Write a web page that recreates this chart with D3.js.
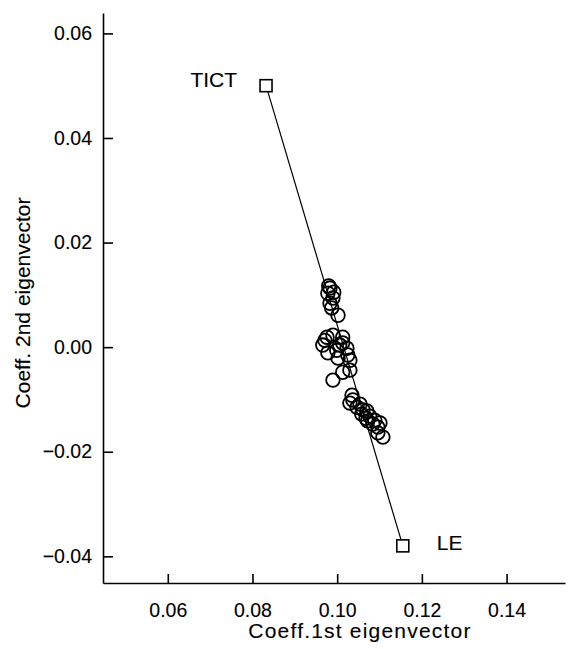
<!DOCTYPE html>
<html>
<head>
<meta charset="utf-8">
<script src="https://cdn.jsdelivr.net/npm/d3@7"></script>
<style>
body{margin:0;background:#fff;}
svg{display:block;font-family:"Liberation Sans",Arial,Helvetica,sans-serif;}
.tick text{font-size:19.5px;fill:#000;stroke:#000;stroke-width:0.12px;}
.label{font-size:21px;fill:#000;stroke:#000;stroke-width:0.12px;}
</style>
</head>
<body>
<svg id="graph1"></svg>
<script>
// scores on the two eigenvectors
var coeff1=[0.0980,0.0983,0.0978,0.0992,0.0990,0.0983,0.0987,0.1002,
    0.0976,0.0990,0.1013,0.0971,0.1013,0.0966,0.1006,0.1023,0.0999,0.0978,0.1025,0.1002,0.1030,0.1030,0.1013,0.0990,
    0.1035,0.1037,0.1030,0.1054,0.1047,0.1061,0.1070,0.1058,0.1077,0.1068,0.1072,0.1089,0.1084,0.1101,0.1096,0.1096,0.1108]
var coeff2=[0.0117,0.0113,0.0103,0.0105,0.0094,0.0084,0.0075,0.0061,
    0.0019,0.0023,0.0019,0.0013,0.0008,0.0004,0.0004,-0.0002,-0.0006,-0.0011,-0.0015,-0.0021,-0.0025,-0.0044,-0.0048,-0.0063,
    -0.0092,-0.0101,-0.0107,-0.0109,-0.0115,-0.0120,-0.0122,-0.0128,-0.0132,-0.0136,-0.0141,-0.0140,-0.0147,-0.0145,-0.0153,-0.0164,-0.0172]

// end members
var endNames=["TICT","LE"]
var endCoeff1=[0.0832,0.1155]
var endCoeff2=[0.0500,-0.0380]

var xTicks=[0.06,0.08,0.10,0.12,0.14]
var yTicks=[-0.04,-0.02,0.00,0.02,0.04,0.06]

var initGraph1=function()
    {
        var screen={width:569,height:649}
        var margins={left:103,right:4,top:13,bottom:66}
        var graph=
            {
                width:screen.width-margins.left-margins.right,
                height:screen.height-margins.top-margins.bottom
            }
        d3.select("#graph1")
            .attr("width",screen.width)
            .attr("height",screen.height)
        var target=d3.select("#graph1")
            .append("g")
            .attr("id","canvas1")
            .attr("transform","translate("+margins.left+","+margins.top+")")
        var xScale=d3.scaleLinear()
            .domain([0.0447,0.1538])
            .range([0,graph.width])
        var yScale=d3.scaleLinear()
            .domain([-0.0451,0.0639])
            .range([graph.height,0])

        drawAxes1(graph,margins,xScale,yScale)
        drawPoints1(target,xScale,yScale)
        drawLabels1(graph,margins)
    }

var drawPoints1=function(target,xScale,yScale)
    {
        var points=coeff1.map(function(d,i){return {x:d,y:coeff2[i]}})
        var ends=endNames.map(function(d,i){return {name:d,x:endCoeff1[i],y:endCoeff2[i]}})

        var lineGenerator=d3.line()
            .x(function(d){return xScale(d.x)})
            .y(function(d){return yScale(d.y)})
        target.append("path")
            .datum(ends)
            .attr("d",lineGenerator)
            .attr("fill","none")
            .attr("stroke","#000")
            .attr("stroke-width",1.2)

        target.selectAll("circle")
            .data(points)
            .enter()
            .append("circle")
            .attr("cx",function(d){return xScale(d.x)})
            .attr("cy",function(d){return yScale(d.y)})
            .attr("r",6.8)
            .attr("fill","none")
            .attr("stroke","#000")
            .attr("stroke-width",1.8)

        target.selectAll("rect.end")
            .data(ends)
            .enter()
            .append("rect")
            .classed("end",true)
            .attr("x",function(d){return xScale(d.x)-6})
            .attr("y",function(d){return yScale(d.y)-6})
            .attr("width",12)
            .attr("height",12)
            .attr("fill","#fff")
            .attr("stroke","#000")
            .attr("stroke-width",1.6)

        target.selectAll("text.end")
            .data(ends)
            .enter()
            .append("text")
            .classed("label",true)
            .attr("text-anchor",function(d,i){return i==0?"end":"start"})
            .attr("x",function(d,i){return xScale(d.x)+(i==0?-29:34)})
            .attr("y",function(d,i){return yScale(d.y)+(i==0?1.5:4)})
            .text(function(d){return d.name})
    }

var drawAxes1=function(graph,margins,xScale,yScale)
    {
        var xAxis=d3.axisBottom(xScale)
            .tickValues(xTicks)
            .tickFormat(d3.format(".2f"))
            .tickSizeInner(-9)
            .tickSizeOuter(0)
            .tickPadding(20)
        var gx=d3.select("#graph1")
            .append("g")
            .attr("transform","translate("+margins.left+","+(margins.top+graph.height)+")")
            .call(xAxis)
        var yAxis=d3.axisLeft(yScale)
            .tickValues(yTicks)
            .tickFormat(d3.format(".2f"))
            .tickSizeInner(-10)
            .tickSizeOuter(0)
            .tickPadding(11)
        var gy=d3.select("#graph1")
            .append("g")
            .attr("transform","translate("+margins.left+","+margins.top+")")
            .call(yAxis)
        gx.selectAll("path,line").attr("stroke","#000").attr("stroke-width",1.6)
        gy.selectAll("path,line").attr("stroke","#000").attr("stroke-width",1.6)
        gx.attr("font-family",null).attr("font-size",null)
        gy.attr("font-family",null).attr("font-size",null)
    }

var drawLabels1=function(graph,margins)
    {
        var labels=d3.select("#graph1")
            .append("g")
        labels.append("text")
            .text("Coeff.1st eigenvector")
            .classed("label",true)
            .attr("text-anchor","middle")
            .attr("letter-spacing","1.2px")
            .attr("x",360)
            .attr("y",638)
        labels.append("g")
            .attr("transform","translate(30,"+303+")")
            .append("text")
            .text("Coeff. 2nd eigenvector")
            .classed("label",true)
            .attr("text-anchor","middle")
            .attr("transform","rotate(-90)")
    }

initGraph1()
</script>
</body>
</html>
